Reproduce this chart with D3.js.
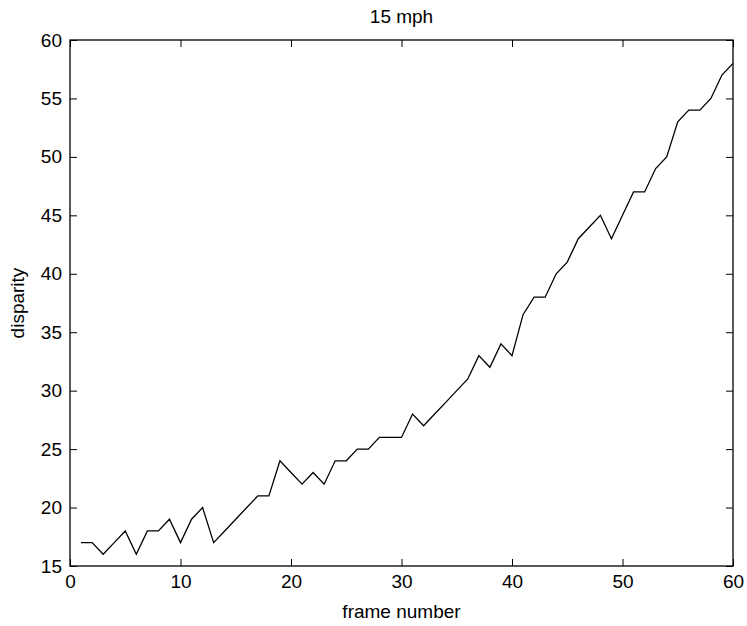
<!DOCTYPE html>
<html><head><meta charset="utf-8">
<script src="https://cdn.jsdelivr.net/npm/d3@7"></script>
<style>body{margin:0;background:#fff}svg{display:block}text{font-family:"Liberation Sans",Arial,sans-serif;fill:#000}</style>
</head><body><div id="chart"></div>
<script>
const title = "15 mph";
const xLabel = "frame number";
const yLabel = "disparity";
const frames = d3.range(1, 61);
const disparity = [17,17,16,17,18,16,18,18,19,17,
                   19,20,17,18,19,20,21,21,24,23,
                   22,23,22,24,24,25,25,26,26,26,
                   28,27,28,29,30,31,33,32,34,33,
                   36.5,38,38,40,41,43,44,45,43,45,
                   47,47,49,50,53,54,54,55,57,58];
const xTicks = [0,10,20,30,40,50,60];
const yTicks = [15,20,25,30,35,40,45,50,55,60];

const W = 747, H = 626;
const m = {left:70, right:14, top:40, bottom:60};
const svg = d3.select("#chart").append("svg").attr("width",W).attr("height",H);
const x = d3.scaleLinear().domain([0,60]).range([m.left, W-m.right]);
const y = d3.scaleLinear().domain([15,60]).range([H-m.bottom, m.top]);
const fs = 19, tl = 7;

// ticks inward on all sides
svg.append("g").attr("transform",`translate(0,${y(15)})`)
  .call(d3.axisBottom(x).tickValues(xTicks).tickSize(-tl).tickPadding(9).tickSizeOuter(0))
  .call(g=>{g.select(".domain").remove(); g.selectAll("text").attr("font-size",fs).attr("font-family",null);});
svg.append("g").attr("transform",`translate(0,${y(60)})`)
  .call(d3.axisTop(x).tickValues(xTicks).tickSize(-tl).tickFormat("").tickSizeOuter(0))
  .call(g=>g.select(".domain").remove());
svg.append("g").attr("transform",`translate(${x(0)},0)`)
  .call(d3.axisLeft(y).tickValues(yTicks).tickSize(-tl).tickPadding(8).tickSizeOuter(0))
  .call(g=>{g.select(".domain").remove(); g.selectAll("text").attr("font-size",fs).attr("font-family",null);});
svg.append("g").attr("transform",`translate(${x(60)},0)`)
  .call(d3.axisRight(y).tickValues(yTicks).tickSize(-tl).tickFormat("").tickSizeOuter(0))
  .call(g=>g.select(".domain").remove());

svg.append("rect").attr("x",x(0)).attr("y",y(60)).attr("width",x(60)-x(0)).attr("height",y(15)-y(60))
  .attr("fill","none").attr("stroke","#000").attr("stroke-width",1.3);

const line = d3.line().x((d,i)=>x(frames[i])).y(d=>y(d));
svg.append("path").datum(disparity).attr("d",line).attr("fill","none").attr("stroke","#000").attr("stroke-width",1.3);

svg.append("text").attr("x",(x(0)+x(60))/2).attr("y",23).attr("text-anchor","middle").attr("font-size",fs).text(title);
svg.append("text").attr("x",(x(0)+x(60))/2).attr("y",618).attr("text-anchor","middle").attr("font-size",fs).text(xLabel);
svg.append("text").attr("transform",`translate(24,${(y(15)+y(60))/2}) rotate(-90)`).attr("text-anchor","middle").attr("font-size",fs).text(yLabel);
</script></body></html>
